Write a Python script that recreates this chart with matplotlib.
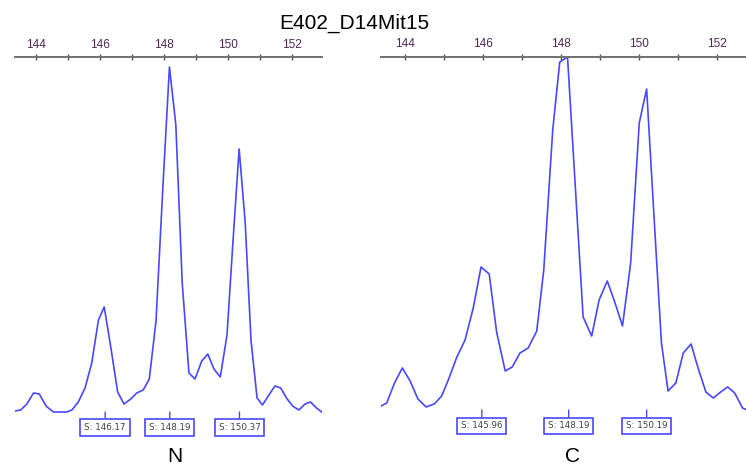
import numpy as np
import matplotlib.pyplot as plt
from matplotlib.ticker import MultipleLocator

# 樣本 N：片段大小 (bp) 與訊號強度
n_size = [143.35, 143.53, 143.72, 143.93, 144.11, 144.32, 144.55, 144.76, 144.97, 145.13,
          145.33, 145.54, 145.75, 145.96, 146.14, 146.35, 146.56, 146.76, 146.97, 147.16,
          147.36, 147.55, 147.76, 147.97, 148.18, 148.38, 148.58, 148.79, 148.98, 149.19,
          149.38, 149.57, 149.77, 149.98, 150.17, 150.36, 150.55, 150.73, 150.92, 151.09,
          151.29, 151.48, 151.66, 151.84, 152.03, 152.23, 152.42, 152.59, 152.78, 152.94]
n_signal = [1, 2, 8, 19, 18, 6, 0, 0, 0, 2,
            10, 24, 49, 92, 105, 64, 20, 8, 13, 19,
            22, 33, 91, 222, 345, 287, 129, 39, 33, 51,
            58, 43, 35, 77, 172, 263, 189, 72, 14, 7,
            17, 26, 24, 14, 6, 2, 8, 10, 4, 0]
n_calls = [146.17, 148.19, 150.37]

# 樣本 C
c_size = [143.33, 143.52, 143.72, 143.92, 144.12, 144.32, 144.53, 144.74, 144.93, 145.12,
          145.32, 145.53, 145.74, 145.94, 146.15, 146.34, 146.56, 146.74, 146.94, 147.15,
          147.37, 147.55, 147.78, 147.96, 148.16, 148.36, 148.56, 148.78, 148.97, 149.18,
          149.38, 149.57, 149.78, 150.00, 150.19, 150.38, 150.57, 150.74, 150.94, 151.13,
          151.33, 151.51, 151.71, 151.90, 152.09, 152.27, 152.45, 152.65, 152.84]
c_signal = [3, 7, 27, 42, 29, 11, 3, 6, 14, 32,
            53, 70, 102, 143, 136, 78, 39, 43, 57, 62,
            79, 140, 280, 348, 353, 223, 93, 74, 110, 129,
            107, 84, 147, 287, 321, 193, 67, 19, 27, 57,
            66, 42, 18, 12, 18, 23, 17, 2, -1]
c_calls = [145.96, 148.19, 150.19]

size_ticks = [144, 146, 148, 150, 152]

line_color = '#4848ff'

fig = plt.figure(figsize=(7.46, 4.68), dpi=100)


def draw_panel(rect, size, signal, calls, xlim, ylim, box_offset):
    ax = fig.add_axes(rect)
    ax.plot(size, signal, color=line_color, lw=1.2)
    ax.set_xlim(xlim)
    ax.set_ylim(ylim)
    for s in ['left', 'right', 'bottom']:
        ax.spines[s].set_visible(False)
    ax.spines['top'].set_color('#707070')
    ax.spines['top'].set_linewidth(1.4)
    ax.set_yticks([])
    ax.xaxis.tick_top()
    ax.set_xticks(size_ticks)
    ax.xaxis.set_minor_locator(MultipleLocator(1))
    ax.tick_params(axis='x', which='both', direction='inout', length=4.5,
                   width=1, color='#505050', pad=2.5)
    for lab in ax.get_xticklabels():
        lab.set_family('Liberation Sans')
        lab.set_fontsize(8.5)
        lab.set_color('#4a2a55')
    # 峰值標示框
    for c in calls:
        ax.annotate('S: %.2f' % c, xy=(c, 0), xytext=(0, box_offset),
                    textcoords='offset points', ha='center', va='center',
                    fontsize=6.3, color='#404040',
                    bbox=dict(boxstyle='square,pad=0.45', fc='white',
                              ec=line_color, lw=1.2),
                    arrowprops=dict(arrowstyle='-', color=line_color, lw=1,
                                    shrinkA=0, shrinkB=0),
                    annotation_clip=False)
    return ax


draw_panel([0.0201, 0.0983, 0.4115, 0.7793], n_size, n_signal, n_calls,
           (143.35, 152.95), (-10, 354.7), -11)
draw_panel([0.5111, 0.1026, 0.4889, 0.7762], c_size, c_signal, c_calls,
           (143.38, 152.74), (-10, 353.3), -11.5)

fig.text(0.475, 1 - 23 / 468, 'E402_D14Mit15', ha='center', va='center',
         fontsize=15, family='Liberation Sans')
fig.text(175 / 746, 1 - 457 / 468, 'N', ha='center', va='center',
         fontsize=15, family='Liberation Sans')
fig.text(573 / 746, 1 - 456 / 468, 'C', ha='center', va='center',
         fontsize=15, family='Liberation Sans')

fig.savefig('out.png', dpi=100)
